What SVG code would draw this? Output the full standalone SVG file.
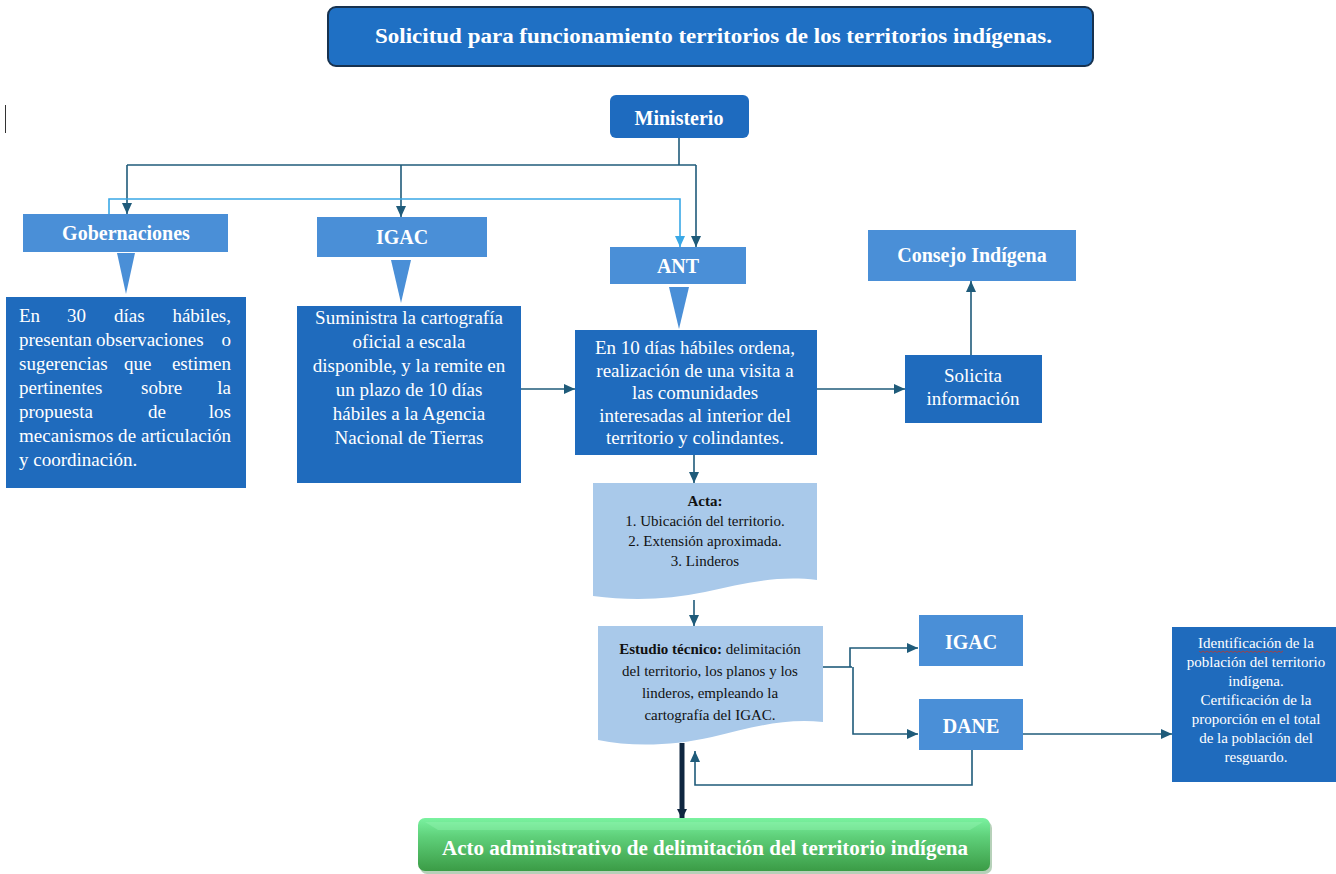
<svg xmlns="http://www.w3.org/2000/svg" width="1336" height="874" viewBox="0 0 1336 874">
<defs>
<style>
.lbl{font-family:"Liberation Serif","Times New Roman",serif;font-weight:bold;font-size:20px;fill:#fff;text-anchor:middle}
.body{font-family:"Liberation Serif","Times New Roman",serif;font-size:19px;fill:#fff}
.mid{text-anchor:middle}
.end{text-anchor:end}
.sm{font-family:"Liberation Serif","Times New Roman",serif;font-size:15px;fill:#fff;text-anchor:middle}
.doc{font-family:"Liberation Serif","Times New Roman",serif;font-size:15px;fill:#111;text-anchor:middle}
.light{fill:#4a8fd7}
.dark{fill:#1f6bbd}
.paper{fill:#a9c9ea}
.con{fill:none;stroke:#1f5b7a;stroke-width:1.6}
.conl{fill:none;stroke:#3aa8e6;stroke-width:1.6}
</style>
<marker id="ah" markerWidth="11" markerHeight="10" refX="11" refY="5" orient="auto" markerUnits="userSpaceOnUse"><path d="M0,0 L11,5 L0,10 z" fill="#1f5b7a"/></marker>
<marker id="ahl" markerWidth="11" markerHeight="10" refX="11" refY="5" orient="auto" markerUnits="userSpaceOnUse"><path d="M0,0 L11,5 L0,10 z" fill="#3aa8e6"/></marker>
<marker id="ahd" markerWidth="10" markerHeight="10" refX="9" refY="5" orient="auto" markerUnits="userSpaceOnUse"><path d="M0,0 L10,5 L0,10 z" fill="#0f2640"/></marker>
<linearGradient id="green" x1="0" y1="0" x2="0" y2="1">
<stop offset="0" stop-color="#7af2a0"/>
<stop offset="0.35" stop-color="#5fd07a"/>
<stop offset="1" stop-color="#3b9c46"/>
</linearGradient>
</defs>
<rect width="1336" height="874" fill="#fff"/>
<line x1="5.5" y1="105" x2="5.5" y2="133" stroke="#333" stroke-width="1"/>

<g id="title">
<rect x="328" y="7" width="765" height="59" rx="8" fill="#1f70c4" stroke="#17324f" stroke-width="2"/>
<text class="lbl" x="375" y="43" font-size="21" style="text-anchor:start" textLength="677" lengthAdjust="spacingAndGlyphs">Solicitud para funcionamiento territorios de los territorios indígenas.</text>
</g>

<g id="connectors">
<polyline class="con" points="679,138 679,165"/>
<polyline class="con" points="127,165 696,165"/>
<polyline class="con" points="127,165 127,214" marker-end="url(#ah)"/>
<polyline class="con" points="401,165 401,217" marker-end="url(#ah)"/>
<polyline class="con" points="696,165 696,247" marker-end="url(#ah)"/>
<polyline class="conl" points="109,214 109,199 680,199 680,247" marker-end="url(#ahl)"/>
<polyline class="con" points="521,389 575,389" marker-end="url(#ah)"/>
<polyline class="con" points="817,389 905,389" marker-end="url(#ah)"/>
<polyline class="con" points="971,355 971,281" marker-end="url(#ah)"/>
<polyline class="con" points="694,455 694,483" marker-end="url(#ah)"/>
<polyline class="con" points="694,600 694,626" marker-end="url(#ah)"/>
<polyline class="con" points="823,667 852,667"/>
<polyline class="con" points="850,667 850,648 918,648" marker-end="url(#ah)"/>
<polyline class="con" points="853,667 853,734 918,734" marker-end="url(#ah)"/>
<polyline class="con" points="972,750 972,785 695,785 695,751" marker-end="url(#ah)"/>
<polyline class="con" points="1023,734 1172,734" marker-end="url(#ah)"/>
<polyline fill="none" stroke="#0f2640" stroke-width="5" points="682,743 682,818" marker-end="url(#ahd)"/>
</g>

<g id="ministerio">
<rect x="610" y="95" width="139" height="43" rx="6" fill="#1e6bbf"/>
<text class="lbl" x="679" y="125">Ministerio</text>
</g>

<g id="gobernaciones">
<rect class="light" x="23" y="214" width="205" height="38"/>
<text class="lbl" x="126" y="240">Gobernaciones</text>
<polygon class="light" points="117,253 135,253 126,294"/>
</g>

<g id="igac">
<rect class="light" x="317" y="217" width="170" height="40"/>
<text class="lbl" x="402" y="244">IGAC</text>
<polygon class="light" points="391,260 411,260 401,303"/>
</g>

<g id="ant">
<rect class="light" x="610" y="247" width="136" height="37"/>
<text class="lbl" x="678" y="273">ANT</text>
<polygon class="light" points="669,287 689,287 679,329"/>
</g>

<g id="gob-text">
<rect class="dark" x="6" y="297" width="240" height="191"/>
<text class="body" y="322"><tspan x="19">En</tspan><tspan x="67">30</tspan><tspan x="114">días</tspan></text>
<text class="body end" x="231" y="322">hábiles,</text>
<text class="body" y="346"><tspan x="19">presentan</tspan><tspan x="96">observaciones</tspan></text>
<text class="body end" x="231" y="346">o</text>
<text class="body" y="370"><tspan x="19">sugerencias</tspan><tspan x="124">que</tspan></text>
<text class="body end" x="231" y="370">estimen</text>
<text class="body" y="394"><tspan x="19">pertinentes</tspan><tspan x="141">sobre</tspan></text>
<text class="body end" x="231" y="394">la</text>
<text class="body" y="418"><tspan x="19">propuesta</tspan><tspan x="148">de</tspan></text>
<text class="body end" x="231" y="418">los</text>
<text class="body" x="19" y="442" textLength="212" lengthAdjust="spacing">mecanismos de articulación</text>
<text class="body" x="19" y="466">y coordinación.</text>
</g>

<g id="igac-text">
<rect class="dark" x="297" y="306" width="224" height="177"/>
<text class="body mid" x="409" y="324">Suministra la cartografía</text>
<text class="body mid" x="409" y="348">oficial a escala</text>
<text class="body mid" x="409" y="372">disponible, y la remite en</text>
<text class="body mid" x="409" y="396">un plazo de 10 días</text>
<text class="body mid" x="409" y="420">hábiles a la Agencia</text>
<text class="body mid" x="409" y="444">Nacional de Tierras</text>
</g>

<g id="ant-text">
<rect class="dark" x="575" y="330" width="242" height="125"/>
<text class="body mid" x="695" y="354">En 10 días hábiles ordena,</text>
<text class="body mid" x="695" y="377">realización de una visita a</text>
<text class="body mid" x="695" y="399">las comunidades</text>
<text class="body mid" x="695" y="422">interesadas al interior del</text>
<text class="body mid" x="695" y="444">territorio y colindantes.</text>
</g>

<g id="solicita">
<rect class="dark" x="905" y="355" width="137" height="68"/>
<text class="body mid" x="973" y="382">Solicita</text>
<text class="body mid" x="973" y="405">información</text>
</g>

<g id="consejo">
<rect class="light" x="868" y="230" width="208" height="51"/>
<text class="lbl" x="972" y="262">Consejo Indígena</text>
</g>

<g id="acta">
<path class="paper" d="M593,483 H817 V580 C775,575 742,584 705,592 C668,600 630,601 593,596 Z"/>
<text class="doc" x="705" y="506" font-weight="bold">Acta:</text>
<text class="doc" x="705" y="526">1. Ubicación del territorio.</text>
<text class="doc" x="705" y="546">2. Extensión aproximada.</text>
<text class="doc" x="705" y="566">3. Linderos</text>
</g>

<g id="estudio">
<path class="paper" d="M598,626 H823 V722 C782,718 750,728 712,737 C672,746 632,747 598,740 Z"/>
<text class="doc" x="710" y="654"><tspan font-weight="bold">Estudio técnico:</tspan> delimitación</text>
<text class="doc" x="710" y="676">del territorio, los planos y los</text>
<text class="doc" x="710" y="698">linderos, empleando la</text>
<text class="doc" x="710" y="720">cartografía del IGAC.</text>
</g>

<g id="igac2">
<rect class="light" x="919" y="615" width="104" height="51"/>
<text class="lbl" x="971" y="649">IGAC</text>
</g>

<g id="dane">
<rect class="light" x="919" y="699" width="104" height="51"/>
<text class="lbl" x="971" y="733">DANE</text>
</g>

<g id="dane-text">
<rect class="dark" x="1172" y="627" width="164" height="155"/>
<text class="sm" x="1256" y="648">Identificación de la</text>
<path d="M1199,651 l2,1.5 l2,-1.5 l2,1.5 l2,-1.5 l2,1.5 l2,-1.5 l2,1.5 l2,-1.5 l2,1.5 l2,-1.5 l2,1.5 l2,-1.5 l2,1.5 l2,-1.5 l2,1.5 l2,-1.5 l2,1.5 l2,-1.5 l2,1.5 l2,-1.5 l2,1.5 l2,-1.5 l2,1.5 l2,-1.5 l2,1.5 l2,-1.5 l2,1.5 l2,-1.5 l2,1.5 l2,-1.5 l2,1.5 l2,-1.5 l2,1.5 l2,-1.5 l2,1.5 l2,-1.5 l2,1.5 l2,-1.5 l2,1.5 l2,-1.5 l2,1.5 l2,-1.5" fill="none" stroke="#c0392b" stroke-width="0.8"/>
<text class="sm" x="1256" y="667">población del territorio</text>
<text class="sm" x="1256" y="686">indígena.</text>
<text class="sm" x="1256" y="705">Certificación de la</text>
<text class="sm" x="1256" y="724">proporción en el total</text>
<text class="sm" x="1256" y="743">de la población del</text>
<text class="sm" x="1256" y="762">resguardo.</text>
</g>

<g id="acto">
<rect x="420" y="821" width="572" height="53" rx="7" fill="#2f7a36" opacity="0.35"/>
<rect x="418" y="818" width="572" height="53" rx="7" fill="url(#green)"/>
<path d="M425,822 L983,822 L970,830 L438,830 Z" fill="#9af7b8" opacity="0.35"/>
<text class="lbl" x="442" y="855" style="text-anchor:start" textLength="526" lengthAdjust="spacingAndGlyphs">Acto administrativo  de delimitación del territorio indígena</text>
</g>
</svg>
